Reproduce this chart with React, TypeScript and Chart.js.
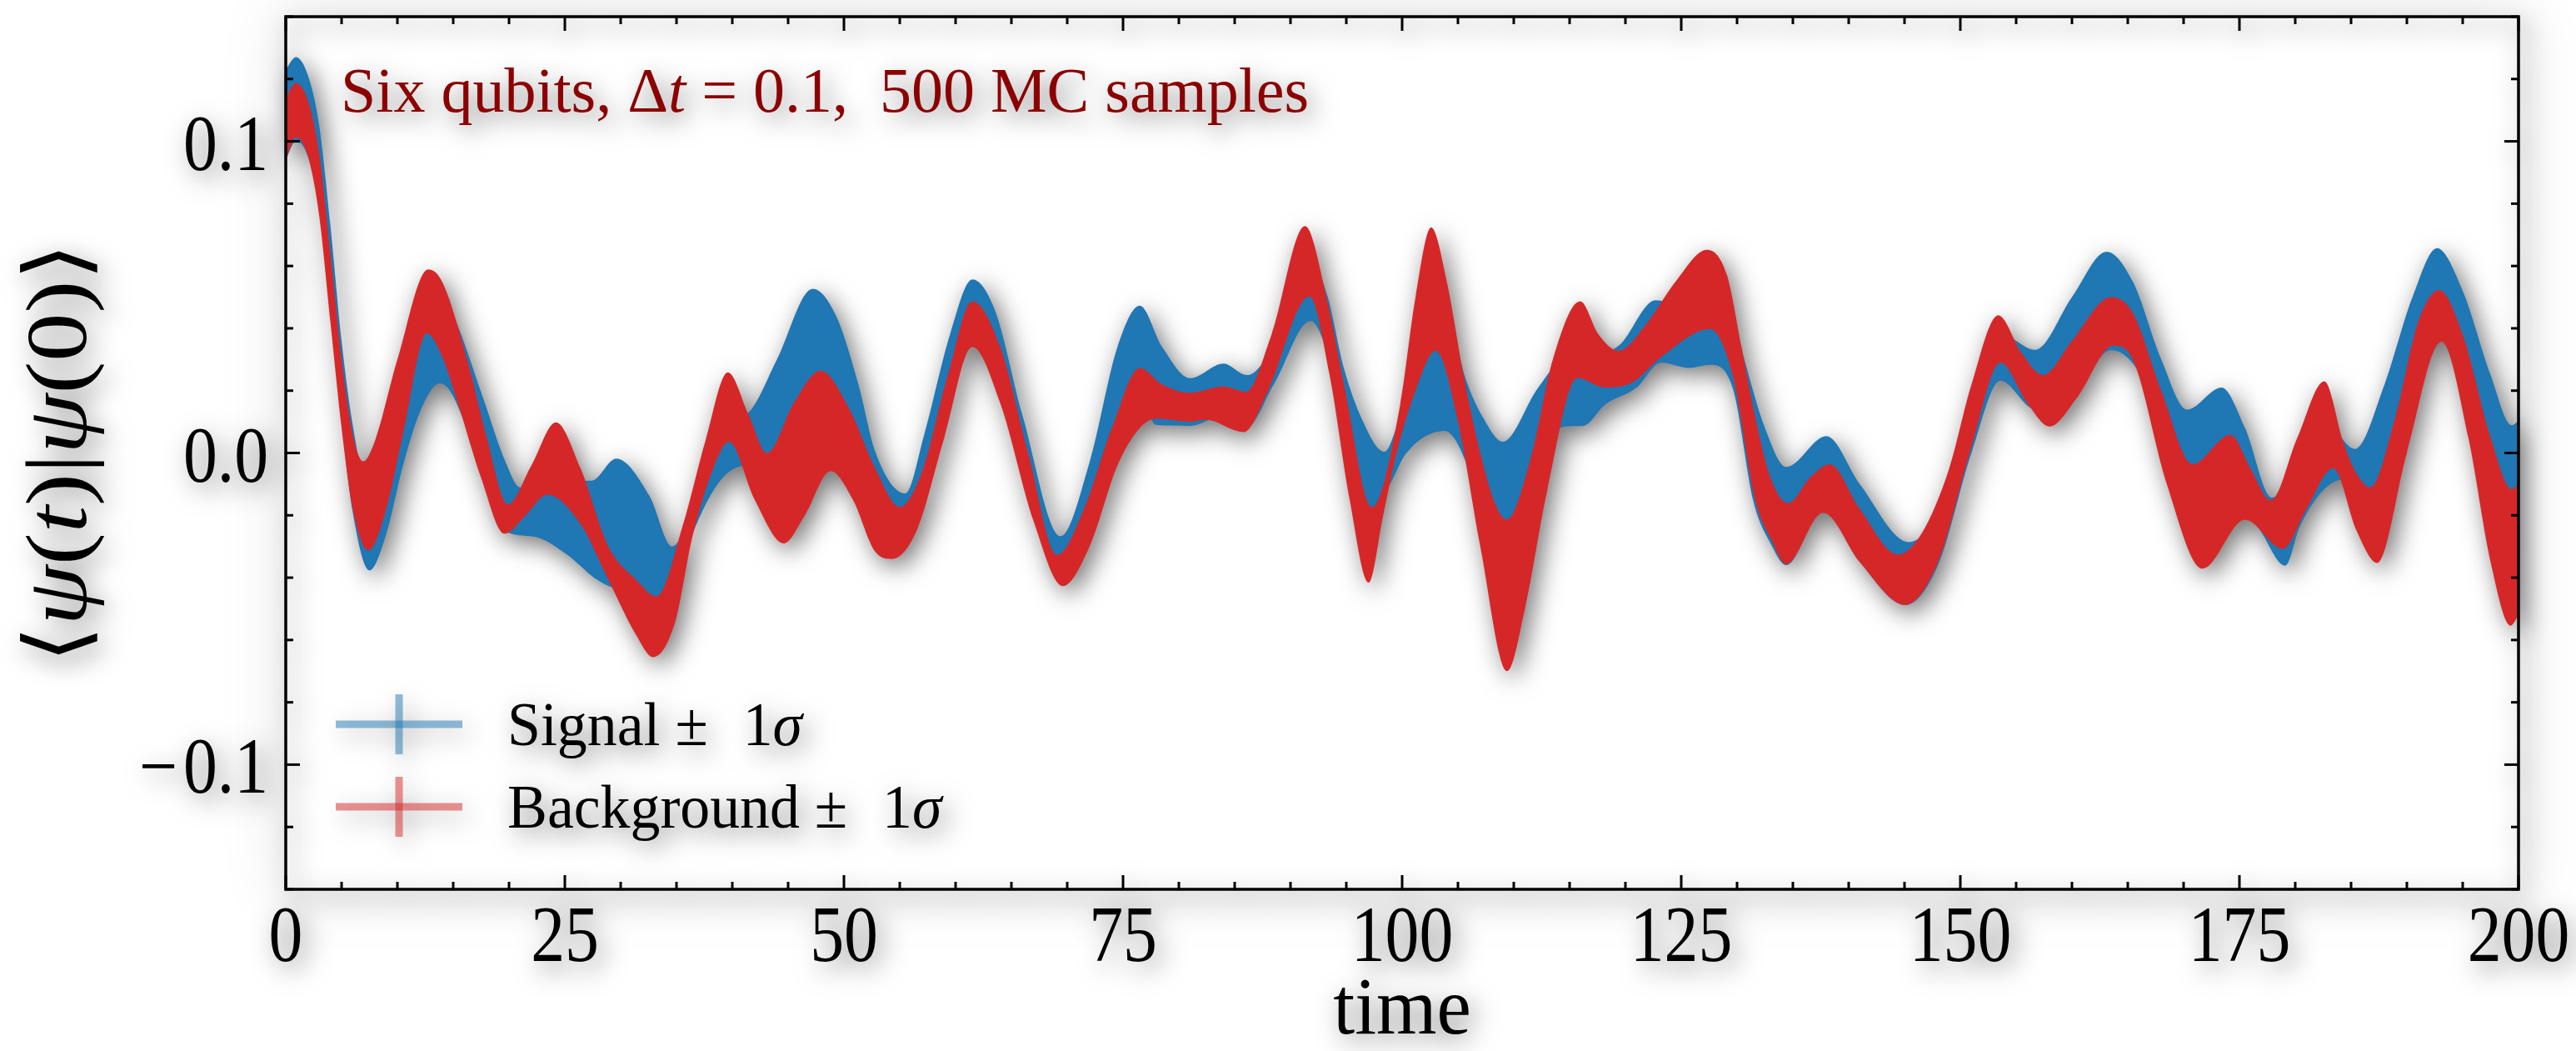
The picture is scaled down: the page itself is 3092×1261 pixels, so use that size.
import React, { useEffect, useRef } from "react";
import { Chart, registerables } from "chart.js";

Chart.register(...registerables);

type Pt = [number, number];

// ---- data (time, value) ----
const SIGNAL_UPPER: Pt[] = [
  [0, 0.123], [0.9, 0.127], [2, 0.121], [3, 0.105], [4, 0.073], [5, 0.036], [6, 0.009], [7, -0.006],
  [8.5, 0.004], [10.5, 0.03], [12.8, 0.052], [14.2, 0.05], [15.5, 0.04], [17.7, 0.0174], [19.7, -0.003],
  [21, -0.011], [22.8, -0.01], [24.8, -0.009], [27.4, -0.0089], [29.6, -0.0018], [32.6, -0.0139],
  [34.6, -0.03], [36.5, -0.018], [38.5, 0.002], [40, 0.01], [41.7, 0.0139], [44, 0.03], [47.2, 0.0527],
  [49.3, 0.044], [51.3, 0.0219], [52.8, 0.0004], [55.5, -0.013], [57.2, 0.006], [59.5, 0.038],
  [61.5, 0.0557], [63.5, 0.046], [66, 0.012], [69.4, -0.0267], [72, -0.003], [74.5, 0.034],
  [76.5, 0.0473], [78.5, 0.034], [81, 0.024], [84, 0.0287], [86.1, 0.025], [88.5, 0.035], [91.5, 0.064],
  [93.3, 0.0505], [94.8, 0.027], [96.5, 0.01], [98.4, 0.0004], [99.5, 0.0085], [101, 0.03], [102.6, 0.048],
  [104.3, 0.042], [105.7, 0.0237], [107.3, 0.011], [109, 0.0036], [112, 0.02], [113.2, 0.026],
  [115.9, 0.04], [117.5, 0.032], [119.4, 0.0344], [122.7, 0.049], [124.5, 0.048], [127.3, 0.052],
  [129.3, 0.048], [130.5, 0.032], [132.5, 0.008], [134.4, -0.0045], [138, 0.0054], [141, -0.01],
  [145.4, -0.0286], [148, -0.018], [151, 0.02], [153.5, 0.04], [155, 0.036], [156.7, 0.0331], [160, 0.05],
  [163.1, 0.0646], [165.45, 0.055], [168, 0.03], [170.3, 0.0139], [173.4, 0.021], [175.5, 0.008],
  [177.9, -0.0143], [180.5, -0.005], [182.6, 0.01], [185.35, 0.0013], [188, 0.022], [190.5, 0.05],
  [192.7, 0.0657], [195, 0.052], [197.5, 0.025], [199.4, 0.0089], [200, 0.0103],
];

const SIGNAL_LOWER: Pt[] = [
  [0, 0.094], [0.9, 0.1], [2, 0.095], [3, 0.078], [4, 0.046], [5, 0.01], [6, -0.019], [7.5, -0.0377],
  [9, -0.026], [10.5, -0.004], [12, 0.013], [13.8, 0.0223], [14.7, 0.02], [16, 0.01], [17.5, -0.005],
  [19.6, -0.025], [22.2, -0.0268], [25.2, -0.0326], [27.9, -0.0407], [30.5, -0.045], [33.2, -0.05],
  [35, -0.042], [35.9, -0.031], [38.8, -0.0094], [41.3, -0.004], [44, -0.005], [47, 0.005], [49.3, 0.005],
  [51.3, 0.0], [53, -0.02], [54.5, -0.03], [57, -0.018], [59.5, 0.015], [61.5, 0.04], [64, 0.02],
  [66.5, -0.01], [69.5, -0.038], [72, -0.022], [74.5, 0.0], [76.5, 0.016], [78, 0.009], [81, 0.0087],
  [84, 0.012], [86, 0.008], [88.5, 0.022], [91.8, 0.0424], [93.5, 0.03], [95.5, 0.0], [97, -0.02],
  [99, -0.0094], [100.3, -0.0004], [103.8, 0.0071], [104.8, 0.004], [106.5, -0.01], [109.4, -0.035],
  [112, -0.004], [114.5, 0.0085], [116.2, 0.0087], [118.2, 0.0156], [121, 0.021], [123.2, 0.029],
  [125.65, 0.0273], [127.6, 0.0283], [129.6, 0.021], [131.5, -0.016], [133, -0.029], [134.4, -0.036],
  [137.7, -0.0185], [141, -0.035], [145.1, -0.0488], [148, -0.036], [151, 0.0], [153.6, 0.0232],
  [156.2, 0.0147], [158, 0.012], [160.5, 0.02], [163.5, 0.033], [166, 0.026], [169, 0.0], [171.7, -0.03],
  [174.5, -0.018], [176.6, -0.0237], [179.1, -0.0362], [180.4, -0.0237], [182.5, -0.012],
  [184.35, -0.0085], [186.5, -0.02], [188.5, -0.01], [191, 0.025], [193, 0.04], [195.5, 0.015],
  [198, -0.025], [200, -0.035],
];

const BACKGROUND_UPPER: Pt[] = [
  [0, 0.114], [0.9, 0.1187], [2, 0.113], [3, 0.096], [4, 0.064], [5, 0.03], [6, 0.006], [6.94, -0.0027],
  [8, 0.004], [10, 0.03], [12.76, 0.0589], [14, 0.055], [16.4, 0.028], [18, 0.005], [19.9, -0.0165],
  [22, -0.004], [24.2, 0.0098], [26.4, -0.0049], [28.9, -0.03], [31.4, -0.0407], [33.2, -0.046],
  [35.6, -0.0228], [37.6, 0.004], [39.6, 0.0259], [41.5, 0.012], [43.1, 0.0], [45.5, 0.016], [47.9, 0.0264],
  [50.5, 0.014], [52.8, -0.0049], [55, -0.0173], [57, -0.006], [59.3, 0.025], [61.5, 0.0487], [64, 0.034],
  [66.5, 0.0], [69.1, -0.0327], [71.5, -0.018], [74, 0.008], [76.5, 0.0273], [78.5, 0.022], [81, 0.0193],
  [84, 0.0213], [86, 0.0196], [88.3, 0.038], [91.3, 0.0728], [93.3, 0.0487], [94.8, 0.0219],
  [97.3, -0.0174], [99.8, 0.015], [101.2, 0.05], [102.6, 0.0724], [104, 0.055], [105.5, 0.025], [107, 0.0],
  [108.3, -0.016], [109.35, -0.0214], [111.5, -0.002], [113.5, 0.03], [115.95, 0.0487], [117.6, 0.038],
  [119.4, 0.0328], [122, 0.042], [124.5, 0.055], [127.3, 0.0652], [129.1, 0.057], [130.4, 0.034],
  [131.6, 0.012], [133, -0.008], [134.6, -0.0161], [136.5, -0.008], [138.3, -0.0036], [141, -0.018],
  [144.4, -0.0326], [146.5, -0.026], [149, -0.005], [151, 0.022], [153.4, 0.0442], [155.5, 0.032],
  [157.4, 0.025], [160, 0.036], [163.5, 0.05], [165.45, 0.045], [168, 0.02], [170.8, -0.0036],
  [174.2, 0.0058], [176, -0.005], [177.8, -0.0152], [180.2, 0.005], [182.6, 0.023], [184.35, 0.003],
  [185.4, -0.006], [186.7, -0.011], [189, 0.012], [191, 0.042], [192.9, 0.0523], [195, 0.038],
  [197.5, 0.005], [199.4, -0.0116], [200, -0.0094],
];

const BACKGROUND_LOWER: Pt[] = [
  [0, 0.094], [0.9, 0.1013], [2, 0.095], [3, 0.076], [4, 0.042], [5, 0.008], [6, -0.018], [7.4, -0.0313],
  [9, -0.018], [10.5, 0.006], [12.65, 0.0384], [14, 0.031], [15.5, 0.015], [17.5, -0.008], [19.6, -0.0259],
  [21.5, -0.02], [23.4, -0.0134], [26.4, -0.0228], [28.9, -0.0407], [31.4, -0.0585], [32.9, -0.0655],
  [34.9, -0.054], [36.4, -0.0273], [38.3, -0.0049], [39.7, 0.0036], [42, -0.015], [44.6, -0.029],
  [46.5, -0.02], [48.8, -0.0058], [50.8, -0.015], [52.8, -0.0317], [54.3, -0.034], [56.5, -0.025],
  [59, 0.005], [61.5, 0.034], [64, 0.016], [67, -0.022], [69.6, -0.0427], [72, -0.03], [74.5, -0.004],
  [76.5, 0.008], [78, 0.011], [81, 0.01], [82.4, 0.0107], [85.8, 0.0067], [88, 0.02], [91.7, 0.0502],
  [93.5, 0.025], [95.3, -0.015], [97, -0.0416], [98.3, -0.02], [99.5, 0.0], [101.2, 0.02], [103, 0.0328],
  [105, 0.01], [107, -0.03], [109.4, -0.07], [111, -0.05], [113, -0.012], [115.7, 0.0241], [118.2, 0.021],
  [120.7, 0.0228], [123.2, 0.0308], [127.6, 0.0398], [129.6, 0.025], [131.6, -0.0147], [133.1, -0.028],
  [134.4, -0.0357], [137.7, -0.0192], [141, -0.035], [145.05, -0.0487], [148, -0.035], [151, 0.002],
  [153.6, 0.029], [156, 0.016], [158, 0.0085], [160.5, 0.018], [163.7, 0.0344], [165.45, 0.03],
  [168.5, -0.01], [171.7, -0.0371], [175.5, -0.0214], [178.9, -0.0308], [181, -0.018], [183.4, -0.0049],
  [185.5, -0.025], [187.35, -0.0353], [190, 0.0], [193.1, 0.0357], [195.5, 0.005], [197.5, -0.035],
  [199.3, -0.0554], [200, -0.052],
];

const X_RANGE: Pt = [0, 200];
const Y_RANGE: Pt = [-0.14, 0.14];
const X_MAJOR_TICKS = [0, 25, 50, 75, 100, 125, 150, 175, 200];
const X_TICK_LABELS = ["0", "25", "50", "75", "100", "125", "150", "175", "200"];
const X_MINOR_STEP = 5;
const Y_MAJOR_TICKS = [-0.1, 0, 0.1];
const Y_TICK_LABELS = ["\u2212\u200A0.1", "0.0", "0.1"];
const Y_MINOR_STEP = 0.02;

const SERIES_NAMES = ["Signal", "Background"];
const SERIES_COLORS = ["#1f77b4", "#d62728"];
const SERIES_LEGEND_COLORS = ["rgba(31,119,180,0.5)", "rgba(214,39,40,0.5)"];
const TITLE_COLOR = "#8b0000";

// ---- styling ----
const W = 3092;
const H = 1261;
const FONT = '"Liberation Serif", "DejaVu Serif", serif';
const SX = 0.86;

type Seg = { t: string; i?: boolean };

function fnt(size: number, italic?: boolean) {
  return `${italic ? "italic " : ""}${size}px ${FONT}`;
}

function drawSegs(
  ctx: CanvasRenderingContext2D,
  segs: Seg[],
  x: number,
  y: number,
  size: number,
  align: "left" | "center" | "right",
  sx: number,
  color: string
) {
  ctx.save();
  ctx.translate(x, y);
  ctx.scale(sx, 1);
  ctx.fillStyle = color;
  ctx.textAlign = "left";
  ctx.textBaseline = "alphabetic";
  let total = 0;
  const widths = segs.map((s) => {
    ctx.font = fnt(size, s.i);
    const w = ctx.measureText(s.t).width;
    total += w;
    return w;
  });
  let cx = align === "right" ? -total : align === "center" ? -total / 2 : 0;
  segs.forEach((s, k) => {
    ctx.font = fnt(size, s.i);
    ctx.fillText(s.t, cx, 0);
    cx += widths[k];
  });
  ctx.restore();
}

const decorPlugin = {
  id: "decor",
  afterDraw(chart: any) {
    const { ctx, chartArea: a, scales } = chart;
    const xs = scales.x;
    const ys = scales.y;
    ctx.save();
    ctx.strokeStyle = "#000";
    ctx.lineCap = "butt";

    const line = (x1: number, y1: number, x2: number, y2: number, w: number) => {
      ctx.lineWidth = w;
      ctx.beginPath();
      ctx.moveTo(x1, y1);
      ctx.lineTo(x2, y2);
      ctx.stroke();
    };

    const isMajor = (v: number, majors: number[], eps: number) => majors.some((m) => Math.abs(m - v) < eps);

    // x ticks (top & bottom, inward)
    const nx = Math.round((X_RANGE[1] - X_RANGE[0]) / X_MINOR_STEP);
    for (let k = 0; k <= nx; k++) {
      const v = X_RANGE[0] + k * X_MINOR_STEP;
      const px = xs.getPixelForValue(v);
      const len = isMajor(v, X_MAJOR_TICKS, 1e-6) ? 17 : 9;
      line(px, a.bottom, px, a.bottom - len, 3);
      line(px, a.top, px, a.top + len, 3);
    }
    // y ticks (left & right, inward)
    const y0 = Math.ceil(Y_RANGE[0] / Y_MINOR_STEP - 1e-9);
    const y1 = Math.floor(Y_RANGE[1] / Y_MINOR_STEP + 1e-9);
    for (let k = y0; k <= y1; k++) {
      const v = k * Y_MINOR_STEP;
      const py = ys.getPixelForValue(v);
      const len = isMajor(v, Y_MAJOR_TICKS, 1e-6) ? 17 : 9;
      line(a.left, py, a.left + len, py, 3);
      line(a.right, py, a.right - len, py, 3);
    }
    // frame
    ctx.lineWidth = 3.5;
    ctx.strokeRect(a.left, a.top, a.right - a.left, a.bottom - a.top);

    // tick labels
    X_MAJOR_TICKS.forEach((v, k) => {
      drawSegs(ctx, [{ t: X_TICK_LABELS[k] }], xs.getPixelForValue(v), a.bottom + 86, 95, "center", SX, "#000");
    });
    Y_MAJOR_TICKS.forEach((v, k) => {
      drawSegs(ctx, [{ t: Y_TICK_LABELS[k] }], a.left - 21, ys.getPixelForValue(v) + 34, 95, "right", SX, "#000");
    });

    // axis titles
    drawSegs(ctx, [{ t: "time" }], (a.left + a.right) / 2, a.bottom + 173, 98, "center", 0.95, "#000");
    ctx.save();
    ctx.translate(a.left - 240, (a.top + a.bottom) / 2);
    ctx.rotate(-Math.PI / 2);
    drawSegs(
      ctx,
      [{ t: "\u27E8" }, { t: "\u03C8", i: true }, { t: "(" }, { t: "t", i: true }, { t: ")|" }, { t: "\u03C8", i: true }, { t: "(0)\u27E9" }],
      0,
      0,
      104,
      "center",
      1.12,
      "#000"
    );
    ctx.restore();

    // annotation
    drawSegs(
      ctx,
      [{ t: "Six qubits, \u0394" }, { t: "t", i: true }, { t: " = 0.1,  500 MC samples" }],
      a.left + 66,
      a.top + 114,
      76,
      "left",
      1.0,
      TITLE_COLOR
    );

    // legend
    const rows = [a.bottom - 198, a.bottom - 99];
    SERIES_NAMES.forEach((name, k) => {
      const cy = rows[k];
      const cx = a.left + 136;
      ctx.strokeStyle = SERIES_LEGEND_COLORS[k];
      line(cx - 76, cy, cx + 76, cy, 9);
      line(cx, cy - 36, cx, cy + 36, 9);
      drawSegs(
        ctx,
        [{ t: `${name} \u00B1\u2002\u200A1` }, { t: "\u03C3", i: true }],
        a.left + 266,
        cy + 25,
        74,
        "left",
        0.97,
        "#000"
      );
    });
    ctx.restore();
  },
};

function makeConfig(): any {
  const toXY = (pts: Pt[]) => pts.map(([x, y]) => ({ x, y }));
  const base = {
    borderWidth: 0,
    borderColor: "rgba(0,0,0,0)",
    pointRadius: 0,
    pointHoverRadius: 0,
    cubicInterpolationMode: "monotone",
  };
  return {
    type: "line",
    data: {
      datasets: [
        { ...base, label: `${SERIES_NAMES[1]} upper`, data: toXY(BACKGROUND_UPPER), fill: false },
        { ...base, label: `${SERIES_NAMES[1]} lower`, data: toXY(BACKGROUND_LOWER), fill: "-1", backgroundColor: SERIES_COLORS[1] },
        { ...base, label: `${SERIES_NAMES[0]} upper`, data: toXY(SIGNAL_UPPER), fill: false },
        { ...base, label: `${SERIES_NAMES[0]} lower`, data: toXY(SIGNAL_LOWER), fill: "-1", backgroundColor: SERIES_COLORS[0] },
      ],
    },
    options: {
      responsive: false,
      animation: false,
      devicePixelRatio: 1,
      events: [],
      layout: { padding: { left: 343, top: 20, right: 69, bottom: 194 } },
      scales: {
        x: { type: "linear", min: X_RANGE[0], max: X_RANGE[1], display: false },
        y: { type: "linear", min: Y_RANGE[0], max: Y_RANGE[1], display: false },
      },
      plugins: {
        legend: { display: false },
        tooltip: { enabled: false },
        title: { display: false },
      },
    },
    plugins: [decorPlugin],
  };
}

export default function App() {
  const shadowRef = useRef<HTMLCanvasElement>(null);
  const mainRef = useRef<HTMLCanvasElement>(null);
  const fringeRef = useRef<HTMLDivElement>(null);

  useEffect(() => {
    document.body.style.margin = "0";
    document.body.style.background = "#fff";
    const charts = [shadowRef.current!, mainRef.current!].map((c) => new Chart(c, makeConfig()));
    const a = charts[1].chartArea;
    const f = fringeRef.current!;
    f.style.left = `${a.left}px`;
    f.style.top = `${a.top}px`;
    f.style.width = `${a.right - a.left}px`;
    f.style.height = `${a.bottom - a.top}px`;
    return () => charts.forEach((ch) => ch.destroy());
  }, []);

  return (
    <div style={{ position: "relative", width: W, height: H, overflow: "hidden", background: "#fff" }}>
      <div
        ref={fringeRef}
        style={{ position: "absolute", background: "#fff", boxShadow: "0 0 70px 14px rgba(0,0,0,0.07)" }}
      />
      <canvas
        ref={shadowRef}
        width={W}
        height={H}
        style={{
          position: "absolute",
          left: 0,
          top: 0,
          width: W,
          height: H,
          filter: "brightness(0) blur(15px) opacity(0.55)",
          transform: "translate(7px, 9px)",
        }}
      />
      <canvas ref={mainRef} width={W} height={H} style={{ position: "absolute", left: 0, top: 0, width: W, height: H }} />
    </div>
  );
}
